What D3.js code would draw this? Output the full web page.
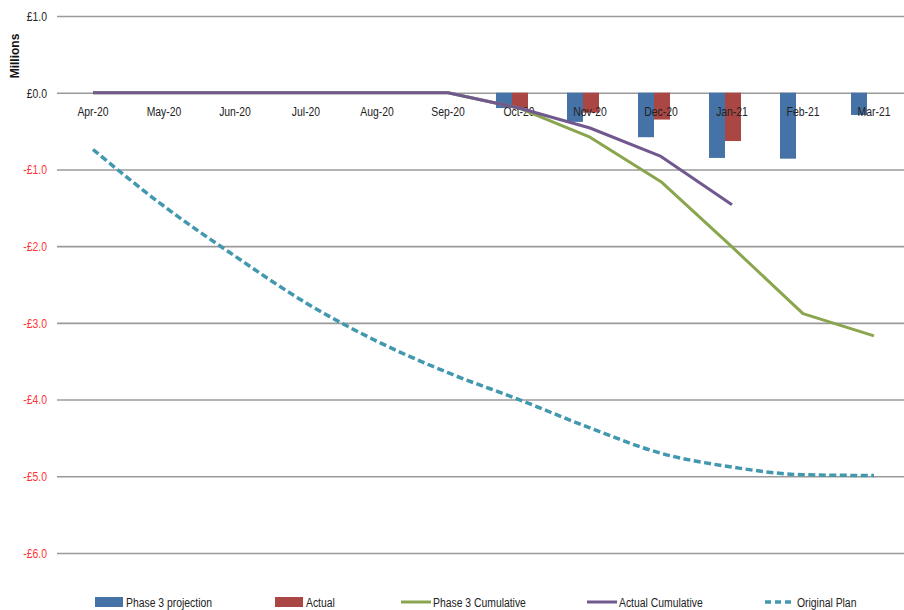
<!DOCTYPE html>
<html>
<head>
<meta charset="utf-8">
<script src="https://cdn.jsdelivr.net/npm/d3@7"></script>
<style>
  html, body { margin: 0; padding: 0; background: #fff; }
  svg { display: block; }
  text { font-family: "Liberation Sans", Arial, sans-serif; }
</style>
</head>
<body>
<svg id="chart" width="904" height="610"></svg>
<script>
// Monthly categories
const months = ["Apr-20","May-20","Jun-20","Jul-20","Aug-20","Sep-20","Oct-20","Nov-20","Dec-20","Jan-21","Feb-21","Mar-21"];

// Monthly bars (£ millions)
const phase3Projection = [0, 0, 0, 0, 0, 0, -0.20, -0.38, -0.58, -0.85, -0.86, -0.29];
const actual           = [0, 0, 0, 0, 0, 0, -0.20, -0.26, -0.35, -0.63, null, null];

// Cumulative lines (£ millions)
const phase3Cumulative = [0, 0, 0, 0, 0, 0, -0.20, -0.58, -1.16, -2.01, -2.88, -3.17];
const actualCumulative = [0, 0, 0, 0, 0, 0, -0.20, -0.46, -0.83, -1.46, null, null];
const originalPlan     = [-0.74, -1.48, -2.13, -2.74, -3.24, -3.65, -4.00, -4.37, -4.70, -4.88, -4.98, -4.99];

// Axis ticks
const yTicks = [1, 0, -1, -2, -3, -4, -5, -6];

const colors = {
  proj: "#4572A7",
  actual: "#AA4643",
  p3cum: "#89A54E",
  actcum: "#71588F",
  plan: "#4198AF"
};

// Horizontal squeeze giving the labels a condensed look
const SQ = 0.77;
const FS = 13.5;

const svg = d3.select("#chart");

const x = d3.scaleBand().domain(months).range([57.5, 909.5]).paddingInner(0).paddingOuter(0);
const cx = m => x(m) + x.bandwidth() / 2;
const y = d3.scaleLinear().domain([-6, 1]).range([553, 16]);

// Bars sit slightly left of each category centre
const sub = d3.scaleBand().domain(["proj", "actual"]).range([-23, 9]).padding(0);

// Gridlines and value labels
const yAxis = d3.axisLeft(y).tickValues(yTicks).tickSize(-(904 - 57)).tickFormat(d => (d < 0 ? "-£" : "£") + Math.abs(d).toFixed(1));
const gy = svg.append("g").attr("transform", "translate(57,0)").call(yAxis);
gy.select(".domain").remove();
gy.selectAll(".tick line").attr("stroke", "#9a9a9a").attr("stroke-width", 1.6);
gy.selectAll(".tick text")
  .attr("x", -10 / SQ)
  .attr("transform", `scale(${SQ},1)`)
  .attr("font-size", FS)
  .attr("fill", d => d < 0 ? "#ff3333" : "#222")
  .style("font-family", '"Liberation Sans", Arial, sans-serif');

// Axis title
svg.append("text")
  .attr("transform", "translate(19,56) rotate(-90)")
  .attr("text-anchor", "middle")
  .attr("font-size", 12)
  .attr("font-weight", "bold")
  .attr("fill", "#111")
  .text("Millions");

// Bars
const barData = months.flatMap((m, i) => [
  { m, key: "proj", v: phase3Projection[i] },
  { m, key: "actual", v: actual[i] }
]).filter(d => d.v !== null && d.v !== 0);

svg.append("g").selectAll("rect").data(barData).join("rect")
  .attr("x", d => cx(d.m) + sub(d.key))
  .attr("width", sub.bandwidth())
  .attr("y", d => Math.min(y(d.v), y(0)))
  .attr("height", d => Math.abs(y(d.v) - y(0)))
  .attr("fill", d => colors[d.key]);

// Category labels just under the zero line
const xAxis = d3.axisBottom(x).tickSize(0).tickPadding(14);
const gx = svg.append("g").attr("transform", `translate(0,${y(0)})`).call(xAxis);
gx.select(".domain").remove();
gx.selectAll(".tick text")
  .attr("transform", `scale(${SQ},1)`)
  .attr("font-size", FS)
  .attr("fill", "#222")
  .style("font-family", '"Liberation Sans", Arial, sans-serif');

// Lines
const line = d3.line()
  .defined(d => d.v !== null)
  .x(d => cx(d.m))
  .y(d => y(d.v));

const toPts = arr => months.map((m, i) => ({ m, v: arr[i] }));

svg.append("path").datum(toPts(phase3Cumulative))
  .attr("fill", "none").attr("stroke", colors.p3cum).attr("stroke-width", 3)
  .attr("stroke-linejoin", "round").attr("d", line);

svg.append("path").datum(toPts(actualCumulative))
  .attr("fill", "none").attr("stroke", colors.actcum).attr("stroke-width", 3)
  .attr("stroke-linejoin", "round").attr("d", line);

svg.append("path").datum(toPts(originalPlan))
  .attr("fill", "none").attr("stroke", colors.plan).attr("stroke-width", 3.5)
  .attr("stroke-dasharray", "7,3.5")
  .attr("d", line.curve(d3.curveMonotoneX));

// Legend
const legendItems = [
  { label: "Phase 3 projection", type: "rect", color: colors.proj, x: 95 },
  { label: "Actual", type: "rect", color: colors.actual, x: 275 },
  { label: "Phase 3 Cumulative", type: "line", color: colors.p3cum, x: 401 },
  { label: "Actual Cumulative", type: "line", color: colors.actcum, x: 587 },
  { label: "Original Plan", type: "dash", color: colors.plan, x: 765 }
];
const ly = 602;
const lg = svg.append("g").selectAll("g").data(legendItems).join("g")
  .attr("transform", d => `translate(${d.x},${ly})`);
lg.filter(d => d.type === "rect").append("rect")
  .attr("x", 0).attr("y", -5).attr("width", 28).attr("height", 10).attr("fill", d => d.color);
lg.filter(d => d.type === "line").append("line")
  .attr("x1", 0).attr("x2", 30).attr("y1", 0).attr("y2", 0)
  .attr("stroke", d => d.color).attr("stroke-width", 3);
lg.filter(d => d.type === "dash").append("line")
  .attr("x1", 0).attr("x2", 28).attr("y1", 0).attr("y2", 0)
  .attr("stroke", d => d.color).attr("stroke-width", 3.5).attr("stroke-dasharray", "6,4");
lg.append("text")
  .attr("transform", `scale(${SQ},1)`)
  .attr("x", d => (d.type === "rect" ? 31 : 32) / SQ)
  .attr("y", 0)
  .attr("dy", "0.35em")
  .attr("font-size", FS)
  .attr("fill", "#222")
  .text(d => d.label);
</script>
</body>
</html>
